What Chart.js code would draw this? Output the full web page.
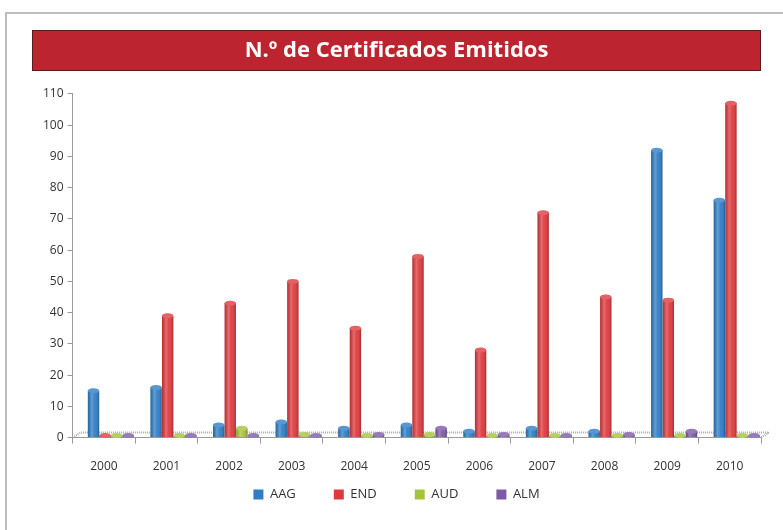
<!DOCTYPE html>
<html>
<head>
<meta charset="utf-8">
<script src="https://cdn.jsdelivr.net/npm/chart.js@4/dist/chart.umd.min.js"></script>
<style>
  html, body { margin: 0; padding: 0; background: #fff; }
  #wrap { position: relative; width: 783px; height: 530px; overflow: hidden; }
  #frame { position: absolute; left: 5px; top: 12px; width: 800px; height: 560px; border: 2px solid #bdbdbd; box-sizing: border-box; }
  canvas { position: absolute; left: 0; top: 0; }
</style>
</head>
<body>
<div id="wrap">
  <div id="frame"></div>
  <canvas id="chart-1" width="783" height="530"></canvas>
</div>
<script>
const years = ["2000", "2001", "2002", "2003", "2004", "2005", "2006", "2007", "2008", "2009", "2010"];
const aag = [15, 16, 4, 5, 3, 4, 2, 3, 2, 92, 76];
const end = [0, 39, 43, 50, 35, 58, 28, 72, 45, 44, 107];
const aud = [0, 0, 3, 1, 0, 1, 0, 0, 0, 0, 0];
const alm = [0, 0, 0, 0, 1, 3, 1, 0, 1, 2, 0];
const yTicks = [0, 10, 20, 30, 40, 50, 60, 70, 80, 90, 100, 110];

const LEGEND_LIFT = 40;
const DEPTH_X = 7;   // fake 3d: bars sit a bit back/right of the category centre
const DEPTH_Y = 5;

// red banner behind the title
const bannerPlugin = {
  id: "banner",
  beforeDraw(chart) {
    const t = chart.titleBlock;
    if (!t) return;
    const c = chart.ctx;
    c.save();
    c.fillStyle = "#bc2530";
    c.fillRect(t.left, t.top, t.width, 41);
    c.strokeStyle = "#5a1a1e";
    c.lineWidth = 1;
    c.strokeRect(t.left + 0.5, t.top + 0.5, t.width - 1, 40);
    c.restore();
  }
};

// legend keeps wide item spacing but takes less room under the axis
const legendPlugin = {
  id: "legendLift",
  beforeLayout(chart) {
    const lg = chart.legend;
    if (lg && !lg._lifted) {
      const fit = lg.fit;
      lg.fit = function () { fit.call(this); this.height -= LEGEND_LIFT; };
      lg._lifted = true;
    }
  },
  afterLayout(chart) {
    if (chart.legend) { chart.legend.top -= LEGEND_LIFT; chart.legend.height += LEGEND_LIFT; }
  }
};

// dotted 3d floor + cylinder shading
const floorPlugin = {
  id: "floor",
  afterDatasetsUpdate(chart) {
    chart.data.datasets.forEach((ds, i) => {
      chart.getDatasetMeta(i).data.forEach(el => { el.x += DEPTH_X; });
    });
  },
  beforeDatasetsDraw(chart) {
    const a = chart.chartArea, c = chart.ctx;
    c.save();
    c.strokeStyle = "#a8a8a8";
    c.lineWidth = 2;
    c.setLineDash([1, 1]);
    c.beginPath();
    c.moveTo(a.left, a.bottom);
    c.lineTo(a.left + DEPTH_X + 1, a.bottom - DEPTH_Y);
    c.lineTo(a.right + DEPTH_X + 1, a.bottom - DEPTH_Y);
    c.lineTo(a.right, a.bottom);
    c.stroke();
    c.restore();
  },
  afterDatasetsDraw(chart) {
    const c = chart.ctx;
    chart.data.datasets.forEach((ds, i) => {
      const base = ds.backgroundColor;
      chart.getDatasetMeta(i).data.forEach(el => {
        const w = el.width, x0 = el.x - w / 2;
        const g = c.createLinearGradient(x0, 0, x0 + w, 0);
        g.addColorStop(0, "rgba(0,0,0,0.18)");
        g.addColorStop(0.35, "rgba(255,255,255,0.25)");
        g.addColorStop(0.6, "rgba(255,255,255,0.05)");
        g.addColorStop(1, "rgba(0,0,0,0.25)");
        c.save();
        c.fillStyle = g;
        c.fillRect(x0, el.y, w, el.base - el.y);
        // rounded cylinder cap
        c.beginPath();
        c.ellipse(el.x, el.y, w / 2, 2.5, 0, 0, Math.PI * 2);
        c.fillStyle = base;
        c.fill();
        c.fillStyle = "rgba(255,255,255,0.2)";
        c.fill();
        c.restore();
      });
    });
  }
};

new Chart(document.getElementById("chart-1"), {
  type: "bar",
  data: {
    labels: years,
    datasets: [
      { label: "AAG", data: aag, backgroundColor: "#2f7ec5" },
      { label: "END", data: end, backgroundColor: "#de3a3e" },
      { label: "AUD", data: aud, backgroundColor: "#a6c43a" },
      { label: "ALM", data: alm, backgroundColor: "#7d5aa8" }
    ]
  },
  options: {
    responsive: false,
    animation: false,
    layout: { padding: { left: 32, right: 22, top: 30, bottom: 19 } },
    datasets: { bar: { categoryPercentage: 0.74, barPercentage: 0.98, minBarLength: 2 } },
    plugins: {
      title: {
        display: true,
        text: "N.º de Certificados Emitidos",
        color: "#ffffff",
        font: { family: "Open Sans", size: 22, weight: "bold", lineHeight: 1.86 },
        padding: { top: 0, bottom: 23 }
      },
      legend: {
        position: "bottom",
        labels: {
          boxWidth: 10, boxHeight: 10, padding: 38,
          color: "#333", font: { family: "Open Sans", size: 13 }
        }
      },
      tooltip: { enabled: false }
    },
    scales: {
      x: {
        grid: { offset: true, drawOnChartArea: false, color: "#999", tickLength: 6 },
        border: { color: "#999", width: 1 },
        ticks: { color: "#333", font: { family: "Open Sans", size: 12 }, padding: 16 }
      },
      y: {
        min: 0, max: 110,
        afterBuildTicks(s) { s.ticks = yTicks.map(v => ({ value: v })); },
        afterFit(s) { s.width += 7; },
        grid: { drawOnChartArea: false, color: "#999", tickLength: 5 },
        border: { color: "#999", width: 1 },
        ticks: { color: "#333", font: { family: "Open Sans", size: 12 }, padding: 4 }
      }
    }
  },
  plugins: [bannerPlugin, legendPlugin, floorPlugin]
});
</script>
</body>
</html>
